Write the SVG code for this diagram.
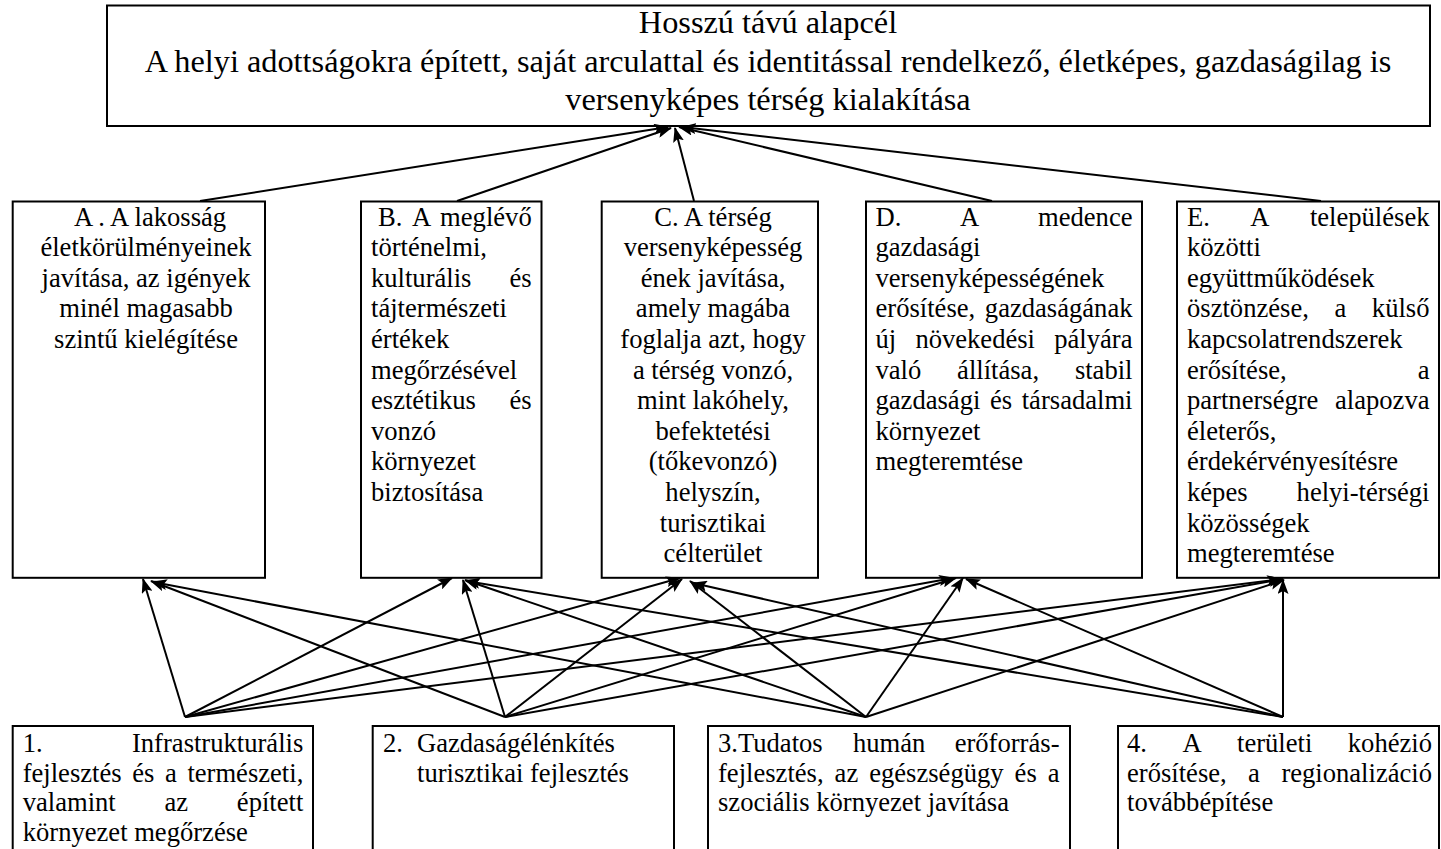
<svg xmlns="http://www.w3.org/2000/svg" width="1441" height="849" viewBox="0 0 1441 849">
<style>
.box{fill:#fff;stroke:#000;stroke-width:2}
text{font-family:"Liberation Serif","Times New Roman",serif;fill:#000}
.t{font-size:32.3px}
.m{font-size:26.6px}
.c{text-anchor:middle}
.e{text-anchor:end}
.conn line{stroke:#000;stroke-width:2;marker-end:url(#ah)}
</style>
<defs>
<marker id="ah" markerUnits="userSpaceOnUse" markerWidth="15" markerHeight="11" viewBox="0 0 15 11" refX="14" refY="5.5" orient="auto">
<path d="M0,0 L15,5.5 L0,11 L3,5.5 Z" fill="#000"/>
</marker>
</defs>
<rect x="0" y="0" width="1441" height="849" fill="#fff"/>

<g id="goal">
<rect class="box" x="107" y="5.5" width="1323" height="120.5"/>
<text class="t c" x="768" y="33">Hosszú távú alapcél</text>
<text class="t c" x="768" y="71.5">A helyi adottságokra épített, saját arculattal és identitással rendelkező, életképes, gazdaságilag is</text>
<text class="t c" x="768" y="110">versenyképes térség kialakítása</text>
</g>

<g id="nodeA">
<rect class="box" x="12.7" y="201.5" width="252.3" height="376.3"/>
<text class="m c" x="150" y="225.5">A . A lakosság</text>
<text class="m c" x="146" y="256.1">életkörülményeinek</text>
<text class="m c" x="146" y="286.7">javítása, az igények</text>
<text class="m c" x="146" y="317.3">minél magasabb</text>
<text class="m c" x="146" y="347.9">szintű kielégítése</text>
</g>

<g id="nodeB">
<rect class="box" x="361" y="201.5" width="180.5" height="376.3"/>
<text class="m" x="378" y="225.5">B.</text><text class="m c" x="421.5" y="225.5">A</text><text class="m e" x="531.7" y="225.5">meglévő</text>
<text class="m" x="371" y="256.1">történelmi,</text>
<text class="m" x="371" y="286.7">kulturális</text><text class="m e" x="531.7" y="286.7">és</text>
<text class="m" x="371" y="317.3">tájtermészeti</text>
<text class="m" x="371" y="347.9">értékek</text>
<text class="m" x="371" y="378.5">megőrzésével</text>
<text class="m" x="371" y="409.1">esztétikus</text><text class="m e" x="531.7" y="409.1">és</text>
<text class="m" x="371" y="439.7">vonzó</text>
<text class="m" x="371" y="470.3">környezet</text>
<text class="m" x="371" y="500.9">biztosítása</text>
</g>

<g id="nodeC">
<rect class="box" x="601.7" y="201.5" width="216.3" height="376.3"/>
<text class="m c" x="713" y="225.5">C. A térség</text>
<text class="m c" x="713" y="256.1">versenyképesség</text>
<text class="m c" x="713" y="286.7">ének javítása,</text>
<text class="m c" x="713" y="317.3">amely magába</text>
<text class="m c" x="713" y="347.9">foglalja azt, hogy</text>
<text class="m c" x="713" y="378.5">a térség vonzó,</text>
<text class="m c" x="713" y="409.1">mint lakóhely,</text>
<text class="m c" x="713" y="439.7">befektetési</text>
<text class="m c" x="713" y="470.3">(tőkevonzó)</text>
<text class="m c" x="713" y="500.9">helyszín,</text>
<text class="m c" x="713" y="531.5">turisztikai</text>
<text class="m c" x="713" y="562.1">célterület</text>
</g>

<g id="nodeD">
<rect class="box" x="866" y="201.5" width="276" height="376.3"/>
<text class="m" x="875.5" y="225.5">D.</text><text class="m c" x="969.7" y="225.5">A</text><text class="m e" x="1132.5" y="225.5">medence</text>
<text class="m" x="875.5" y="256.1">gazdasági</text>
<text class="m" x="875.5" y="286.7">versenyképességének</text>
<text class="m" x="875.5" y="317.3">erősítése,</text><text class="m e" x="1132.5" y="317.3">gazdaságának</text>
<text class="m" x="875.5" y="347.9">új</text><text class="m c" x="975.2" y="347.9">növekedési</text><text class="m e" x="1132.5" y="347.9">pályára</text>
<text class="m" x="875.5" y="378.5">való</text><text class="m c" x="998.1" y="378.5">állítása,</text><text class="m e" x="1132.5" y="378.5">stabil</text>
<text class="m" x="875.5" y="409.1">gazdasági</text><text class="m c" x="1001" y="409.1">és</text><text class="m e" x="1132.5" y="409.1">társadalmi</text>
<text class="m" x="875.5" y="439.7">környezet</text>
<text class="m" x="875.5" y="470.3">megteremtése</text>
</g>

<g id="nodeE">
<rect class="box" x="1177" y="201.5" width="262" height="376.3"/>
<text class="m" x="1187" y="225.5">E.</text><text class="m c" x="1259.8" y="225.5">A</text><text class="m e" x="1429.5" y="225.5">települések</text>
<text class="m" x="1187" y="256.1">közötti</text>
<text class="m" x="1187" y="286.7">együttműködések</text>
<text class="m" x="1187" y="317.3">ösztönzése,</text><text class="m c" x="1340.3" y="317.3">a</text><text class="m e" x="1429.5" y="317.3">külső</text>
<text class="m" x="1187" y="347.9">kapcsolatrendszerek</text>
<text class="m" x="1187" y="378.5">erősítése,</text><text class="m e" x="1429.5" y="378.5">a</text>
<text class="m" x="1187" y="409.1">partnerségre</text><text class="m e" x="1429.5" y="409.1">alapozva</text>
<text class="m" x="1187" y="439.7">életerős,</text>
<text class="m" x="1187" y="470.3">érdekérvényesítésre</text>
<text class="m" x="1187" y="500.9">képes</text><text class="m e" x="1429.5" y="500.9">helyi-térségi</text>
<text class="m" x="1187" y="531.5">közösségek</text>
<text class="m" x="1187" y="562.1">megteremtése</text>
</g>

<g id="node1">
<rect class="box" x="12.7" y="726" width="300.3" height="140"/>
<text class="m" x="22.7" y="752">1.</text><text class="m e" x="303.3" y="752">Infrastrukturális</text>
<text class="m" x="22.7" y="781.5">fejlesztés</text><text class="m" x="132.3" y="781.5">és</text><text class="m" x="165" y="781.5">a</text><text class="m e" x="303.3" y="781.5">természeti,</text>
<text class="m" x="22.7" y="811">valamint</text><text class="m c" x="176.3" y="811">az</text><text class="m e" x="303.3" y="811">épített</text>
<text class="m" x="22.7" y="840.5">környezet megőrzése</text>
</g>

<g id="node2">
<rect class="box" x="372.7" y="726" width="301.3" height="140"/>
<text class="m" x="383" y="752">2.</text><text class="m" x="417" y="752">Gazdaságélénkítés</text>
<text class="m" x="417" y="781.5">turisztikai fejlesztés</text>
</g>

<g id="node3">
<rect class="box" x="708" y="726" width="362" height="140"/>
<text class="m" x="718" y="752">3.Tudatos</text><text class="m c" x="889.2" y="752">humán</text><text class="m e" x="1059.5" y="752">erőforrás-</text>
<text class="m" x="718" y="781.5">fejlesztés,</text><text class="m" x="834.6" y="781.5">az</text><text class="m" x="869.2" y="781.5">egészségügy</text><text class="m" x="1014.6" y="781.5">és</text><text class="m e" x="1059.5" y="781.5">a</text>
<text class="m" x="718" y="811">szociális környezet javítása</text>
</g>

<g id="node4">
<rect class="box" x="1118" y="726" width="321" height="140"/>
<text class="m" x="1127" y="752">4.</text><text class="m" x="1182.4" y="752">A</text><text class="m" x="1237" y="752">területi</text><text class="m e" x="1432" y="752">kohézió</text>
<text class="m" x="1127" y="781.5">erősítése,</text><text class="m c" x="1254" y="781.5">a</text><text class="m e" x="1432" y="781.5">regionalizáció</text>
<text class="m" x="1127" y="811">továbbépítése</text>
</g>

<g id="connectors" class="conn">
<line x1="200" y1="201" x2="668" y2="127"/>
<line x1="457" y1="201" x2="671" y2="128"/>
<line x1="694" y1="201" x2="675" y2="128"/>
<line x1="992" y1="201" x2="679" y2="127"/>
<line x1="1321" y1="201" x2="682" y2="127"/>

<line x1="185" y1="717" x2="143" y2="579"/>
<line x1="185" y1="717" x2="452" y2="578"/>
<line x1="185" y1="717" x2="680" y2="578"/>
<line x1="185" y1="717" x2="953" y2="578"/>
<line x1="185" y1="717" x2="1281" y2="579"/>

<line x1="505" y1="717" x2="151" y2="581"/>
<line x1="505" y1="717" x2="463" y2="580"/>
<line x1="505" y1="717" x2="682" y2="579"/>
<line x1="505" y1="717" x2="956" y2="578"/>
<line x1="505" y1="717" x2="1283" y2="579"/>

<line x1="866" y1="717" x2="153" y2="582"/>
<line x1="866" y1="717" x2="465" y2="580"/>
<line x1="866" y1="717" x2="690" y2="581"/>
<line x1="866" y1="717" x2="963" y2="578"/>
<line x1="866" y1="717" x2="1284" y2="580"/>

<line x1="1283" y1="717" x2="466" y2="581"/>
<line x1="1283" y1="717" x2="693" y2="583"/>
<line x1="1283" y1="717" x2="966" y2="579"/>
<line x1="1283" y1="717" x2="1283" y2="580"/>
</g>
</svg>
